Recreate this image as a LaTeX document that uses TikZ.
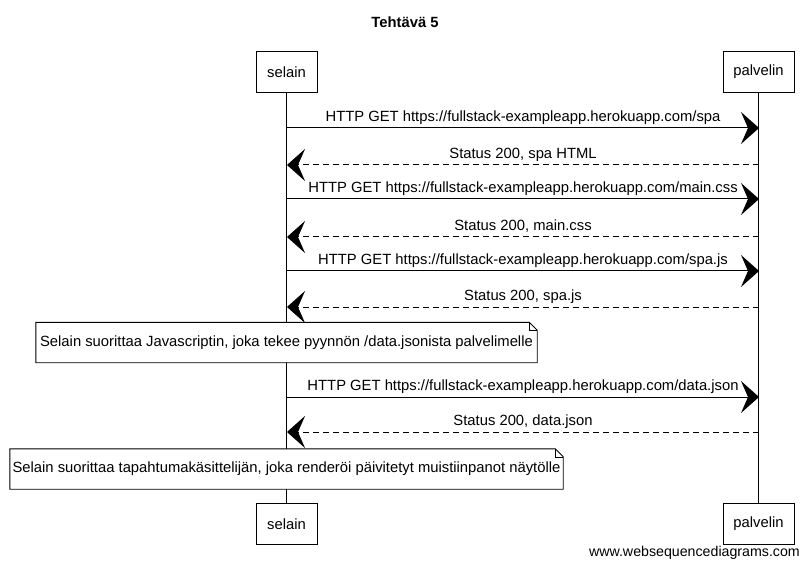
\documentclass[tikz,border=0pt]{standalone}
\usepackage{fontspec}
\setmainfont{Liberation Sans}
\usetikzlibrary{arrows.meta}
\tikzstyle{actor}=[draw=black,line width=0.9pt,fill=white,minimum height=41pt,inner sep=0pt,font=\fontsize{14.8}{17}\selectfont]
\tikzstyle{life} = [draw,line width=0.8pt]
\tikzstyle{msg} = [draw,line width=1pt,-{Stealth[length=18pt,width=32pt,inset=7pt]}]
\tikzstyle{reply} = [msg,dash pattern=on 6pt off 4pt]
\tikzstyle{lbl} = [anchor=base,yshift=6.5pt,inner sep=0pt,font=\fontsize{14.8}{17}\selectfont]
\tikzstyle{note} = [minimum height=40pt,inner sep=0pt,font=\fontsize{14.8}{17}\selectfont]
\tikzstyle{notebox} = [draw,line width=0.9pt,fill=white]

\begin{document}
\begin{tikzpicture}[x=1pt,y=-1pt]
  \useasboundingbox (0,0) rectangle (808,569);

  \node[font=\bfseries\fontsize{14.8}{17}\selectfont] (title) at (405,22) {Tehtävä 5};

  % actors
  \node[actor,minimum width=61pt] (selTop) at (286.5,72) {selain};
  \node[actor,minimum width=71pt] (palTop) at (758.5,72) {palvelin};
  \node[actor,minimum width=61pt] (selBot) at (286.5,524) {selain};
  \node[actor,minimum width=71pt] (palBot) at (758.5,524) {palvelin};

  \draw[life] (selTop) -- (selBot);
  \draw[life] (palTop) -- (palBot);

  % message end points on the lifelines
  \foreach \i/\y in {1/128,2/165,3/199,4/237,5/271,6/307,7/397,8/432}{
    \coordinate (s\i) at (287,\y);
    \coordinate (p\i) at (759,\y);
  }

  \draw[msg]   (s1) -- node[lbl] {HTTP GET https://fullstack-exampleapp.herokuapp.com/spa} (p1);
  \draw[reply] (p2) -- node[lbl] {Status 200, spa HTML} (s2);
  \draw[msg]   (s3) -- node[lbl] {HTTP GET https://fullstack-exampleapp.herokuapp.com/main.css} (p3);
  \draw[reply] (p4) -- node[lbl] {Status 200, main.css} (s4);
  \draw[msg]   (s5) -- node[lbl] {HTTP GET https://fullstack-exampleapp.herokuapp.com/spa.js} (p5);
  \draw[reply] (p6) -- node[lbl] {Status 200, spa.js} (s6);
  \draw[msg]   (s7) -- node[lbl] {HTTP GET https://fullstack-exampleapp.herokuapp.com/data.json} (p7);
  \draw[reply] (p8) -- node[lbl] {Status 200, data.json} (s8);

  % notes
  \node[note,minimum width=501pt] (n1) at (286.5,342.5) {};
  \draw[notebox] (n1.south west) -- (n1.north west) -- ([xshift=-8pt]n1.north east)
    -- ([yshift=-8pt]n1.north east) -- (n1.south east) -- cycle;
  \draw[line width=0.6pt] ([xshift=-8pt]n1.north east) |- ([yshift=-8pt]n1.north east);
  \node[note] at (n1) {Selain suorittaa Javascriptin, joka tekee pyynnön /data.jsonista palvelimelle};

  \node[note,minimum width=553pt] (n2) at (286.5,469) {};
  \draw[notebox] (n2.south west) -- (n2.north west) -- ([xshift=-8pt]n2.north east)
    -- ([yshift=-8pt]n2.north east) -- (n2.south east) -- cycle;
  \draw[line width=0.6pt] ([xshift=-8pt]n2.north east) |- ([yshift=-8pt]n2.north east);
  \node[note] at (n2) {Selain suorittaa tapahtumakäsittelijän, joka renderöi päivitetyt muistiinpanot näytölle};

  \node[anchor=east,inner sep=0pt,font=\fontsize{14.2}{17}\selectfont] (wsd) at (800,553) {www.websequencediagrams.com};
\end{tikzpicture}
\end{document}
